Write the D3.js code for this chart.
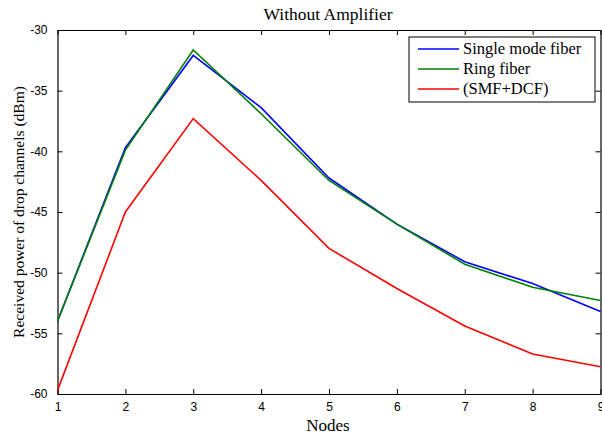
<!DOCTYPE html>
<html>
<head>
<meta charset="utf-8">
<script src="https://cdn.jsdelivr.net/npm/d3@7"></script>
<style>
  body { margin: 0; background: #fff; }
  .tick text { font-family: "Liberation Sans", Arial, sans-serif; font-size: 12px; }
  .serif { font-family: "Liberation Serif", "Times New Roman", serif; }
</style>
</head>
<body>
<div id="chart"></div>
<script>
// data
let nodes = [1, 2, 3, 4, 5, 6, 7, 8, 9];
let smf  = [-54.0, -39.7, -32.1, -36.4, -42.2, -46.0, -49.1, -50.9, -53.2];
let ring = [-54.0, -39.9, -31.65, -36.9, -42.4, -46.0, -49.3, -51.2, -52.3];
let dcf  = [-59.7, -45.0, -37.3, -42.4, -48.0, -51.3, -54.4, -56.7, -57.75];
let yTicks = [-30, -35, -40, -45, -50, -55, -60];

let seriesNames = ["Single mode fiber", "Ring fiber", "(SMF+DCF)"];
let seriesColors = ["#0000ff", "#008000", "#ff0000"];
let seriesData = [smf, ring, dcf];

let margin = {top: 30, right: 1.5, bottom: 43, left: 57.5},
    width = 602 - margin.left - margin.right,
    height = 437 - margin.top - margin.bottom;

let svg = d3.select("#chart").append("svg")
    .attr("width", 602)
    .attr("height", 437);

let g = svg.append("g")
    .attr("transform", "translate(" + margin.left + "," + margin.top + ")");

let x = d3.scaleLinear().domain([1, 9]).range([0, width]);
let y = d3.scaleLinear().domain([-60, -30]).range([height, 0]);

// axes, matlab style: ticks pointing inward
let xAxis = d3.axisBottom(x).tickValues(nodes).tickFormat(d3.format("d"))
    .tickSizeInner(-5).tickSizeOuter(0).tickPadding(8);
let yAxis = d3.axisLeft(y).tickValues(yTicks).tickFormat(d => d)
    .tickSizeInner(-5).tickSizeOuter(0).tickPadding(10);

g.append("g").attr("transform", "translate(0," + height + ")").call(xAxis);
g.append("g").call(yAxis);
g.append("g").call(d3.axisTop(x).tickValues(nodes).tickFormat("")
    .tickSizeInner(-5).tickSizeOuter(0));
g.append("g").attr("transform", "translate(" + width + ",0)")
    .call(d3.axisRight(y).tickValues(yTicks).tickFormat("")
    .tickSizeInner(-5).tickSizeOuter(0));

g.selectAll(".domain").attr("stroke", "#000").attr("stroke-width", 1.2);
g.selectAll(".tick line").attr("stroke", "#000");

// lines
let line = d3.line()
    .x((d, i) => x(nodes[i]))
    .y(d => y(d));

seriesData.forEach(function(s, k) {
    g.append("path")
        .datum(s)
        .attr("fill", "none")
        .attr("stroke", seriesColors[k])
        .attr("stroke-width", 1.6)
        .attr("d", line);
});

// title and labels
svg.append("text").attr("class", "serif")
    .attr("x", 328).attr("y", 20)
    .attr("text-anchor", "middle").attr("font-size", 17.5)
    .text("Without Amplifier");

svg.append("text").attr("class", "serif")
    .attr("x", 328).attr("y", 431)
    .attr("text-anchor", "middle").attr("font-size", 17)
    .text("Nodes");

svg.append("text").attr("class", "serif")
    .attr("transform", "translate(24," + 212 + ") rotate(-90)")
    .attr("text-anchor", "middle").attr("font-size", 15.5)
    .text("Received power of drop channels (dBm)");

// legend
let legend = svg.append("g").attr("transform", "translate(409,37)");
legend.append("rect")
    .attr("width", 186).attr("height", 65)
    .attr("fill", "#fff").attr("stroke", "#000").attr("stroke-width", 1);

seriesNames.forEach(function(name, k) {
    let ly = 12 + k * 20;
    legend.append("line")
        .attr("x1", 9).attr("x2", 50)
        .attr("y1", ly).attr("y2", ly)
        .attr("stroke", seriesColors[k]).attr("stroke-width", 1.6);
    legend.append("text").attr("class", "serif")
        .attr("x", 54).attr("y", ly + 5)
        .attr("font-size", 16.5)
        .text(name);
});
</script>
</body>
</html>
